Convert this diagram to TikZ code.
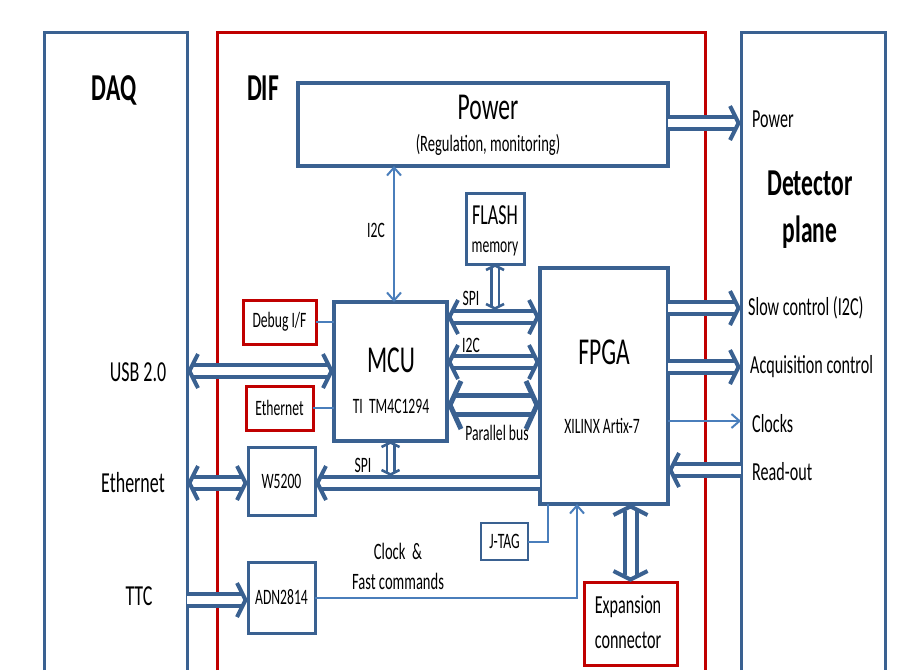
\documentclass[tikz,border=0pt]{standalone}
\usepackage{fontspec}
\setmainfont{Carlito}[FakeStretch=0.62]
\usetikzlibrary{arrows.meta, calc}

\definecolor{difblue}{HTML}{3A6191}
\definecolor{linkblue}{HTML}{4A7EBB}
\definecolor{difred}{HTML}{C00000}

\newcommand{\fsbig}{\fontsize{38}{40}\selectfont}
\newcommand{\fsmid}{\fontsize{29}{31}\selectfont}
\newcommand{\fsside}{\fontsize{26}{28}\selectfont}
\newcommand{\fsnote}{\fontsize{23.5}{25}\selectfont}
\newcommand{\fssmall}{\fontsize{22}{24}\selectfont}

% open chevron for the double bus lines
\pgfdeclarearrow{
  name = Chevron,
  defaults = {length = +10pt, width = +34pt, line width = +4pt},
  parameters = {\the\pgfarrowlength,\the\pgfarrowwidth,\the\pgfarrowlinewidth},
  setup code = {
    \pgfarrowssettipend{0pt}
    \pgfarrowssetlineend{-.6\pgfarrowlength}
    \pgfarrowssetbackend{-\pgfarrowlength}
    \pgfarrowssetvisualbackend{-\pgfarrowlength}
    \pgfarrowshullpoint{0pt}{0pt}
    \pgfarrowsupperhullpoint{-\pgfarrowlength}{.5\pgfarrowwidth}
    \pgfarrowssavethe\pgfarrowlength
    \pgfarrowssavethe\pgfarrowwidth
    \pgfarrowssavethe\pgfarrowlinewidth
  },
  drawing code = {
    \pgfsetdash{}{+0pt}
    \pgfsetlinewidth{\pgfarrowlinewidth}
    \pgfsetmiterjoin
    \pgfsetbuttcap
    \pgfpathmoveto{\pgfqpoint{-\pgfarrowlength}{.5\pgfarrowwidth}}
    \pgfpathlineto{\pgfqpoint{-.6\pgfarrowlinewidth}{0pt}}
    \pgfpathlineto{\pgfqpoint{-\pgfarrowlength}{-.5\pgfarrowwidth}}
    \pgfusepathqstroke
  }
}

\tikzset{
  chev/.tip={Chevron[length=11pt, width=34pt, line width=4pt]},
  widechev/.tip={Chevron[length=14pt, width=48pt, line width=5pt]},
  smallchev/.tip={Chevron[length=6pt, width=18pt, line width=2.5pt]},
  thinchev/.tip={Straight Barb[length=8pt, width=14pt, line width=2pt 0 0]}
}

\begin{document}
\begin{tikzpicture}[x=1pt, y=-1pt,
    block/.style={draw=difblue, line width=3.5pt, inner sep=0pt, outer sep=0pt},
    redblock/.style={draw=difred, line width=3pt, inner sep=0pt, outer sep=0pt},
    frame/.style={line width=3pt},
    txt/.style={inner sep=0pt},
    bus/.style={draw=difblue, line width=4pt, double=white, double distance=8pt},
    widebus/.style={draw=difblue, line width=5pt, double=white, double distance=14pt},
    narrowbus/.style={draw=difblue, line width=2.5pt, double=white, double distance=5pt},
    link/.style={draw=linkblue, line width=2pt}
  ]
  \useasboundingbox (0,0) rectangle (923,670);

  % --- outer frames ---
  \draw[frame, difblue] (44,670) |- (187,32) -- (187,670);
  \draw[frame, difred] (217,670) |- (705,32) -- (705,670);
  \draw[frame, difblue] (741,670) |- (885,32) -- (885,670);
  \coordinate (daqR) at (187,32);
  \coordinate (detL) at (741,32);

  \node[txt, font=\fsbig\bfseries] (daq) at (114,90) {DAQ};
  \node[txt, font=\fsbig\bfseries] (dif) at (263,88) {DIF};
  \node[txt, font=\fsbig\bfseries] (det1) at (810,183) {Detector};
  \node[txt, font=\fsbig\bfseries] (det2) at (810,232) {plane};

  % --- blocks ---
  \node[block, minimum width=370, minimum height=83] (power) at (483,124.5) {};
  \node[txt, font=\fsbig] (powert) at (488,107) {Power};
  \node[txt, font=\fsnote] (powers) at (488,145) {(Regulation, monitoring)};

  \node[block, line width=3pt, minimum width=58, minimum height=71] (flash) at (495,228.5) {};
  \node[txt, font=\fsmid] (flasht) at (495,215) {FLASH};
  \node[txt, font=\fssmall] (flashs) at (495,249) {memory};

  \node[block, minimum width=113, minimum height=139] (mcu) at (390.5,371.5) {};
  \node[txt, font=\fsbig] (mcut) at (391,360) {MCU};
  \node[txt, font=\fssmall] (mcus) at (391,406) {TI\ \ TM4C1294};

  \node[block, minimum width=128, minimum height=236] (fpga) at (604,386) {};
  \node[txt, font=\fsbig] (fpgat) at (604,352) {FPGA};
  \node[txt, font=\fssmall] (fpgas) at (602,426) {XILINX Artix-7};

  \node[redblock, minimum width=73, minimum height=44, font=\fssmall] (debug) at (279.5,322) {Debug I/F};
  \node[redblock, minimum width=67, minimum height=44, font=\fssmall] (ethbox) at (279.5,408) {Ethernet};
  \node[block, line width=3pt, minimum width=67, minimum height=68, font=\fssmall] (w5200) at (281.5,481) {W5200};
  \node[block, line width=3pt, minimum width=67, minimum height=71, font=\fssmall] (adn) at (281.5,597.5) {ADN2814};
  \node[block, line width=2pt, minimum width=47, minimum height=37, font=\fssmall] (jtag) at (504.5,541.5) {J-TAG};
  \node[redblock, minimum width=93, minimum height=83] (expansion) at (630.5,623.5) {};
  \node[txt, font=\fsside] (expt) at (628,607) {Expansion};
  \node[txt, font=\fsside] (exps) at (628,640) {connector};

  % --- DAQ side ---
  \node[txt, font=\fsmid] (usbl) at (138,372) {USB 2.0};
  \node[txt, font=\fsmid] (ethl) at (133,483) {Ethernet};
  \node[txt, font=\fsmid] (ttcl) at (139,596) {TTC};
  \draw[bus, chev-chev] (daqR |- 0,371) -- (mcu.west |- 0,371);
  \draw[bus, chev-chev] (daqR |- 0,483) -- (w5200.west |- 0,483);
  \draw[bus, -chev] (daqR |- 0,600) -- (adn.west |- 0,600);

  % --- MCU <-> FPGA ---
  \draw[bus, chev-chev] (mcu.east |- 0,317) -- (fpga.west |- 0,317);
  \draw[bus, chev-chev] (mcu.east |- 0,362) -- (fpga.west |- 0,362);
  \draw[widebus, widechev-widechev] (mcu.east |- 0,405) -- (fpga.west |- 0,405);
  \draw[bus, chev-] (w5200.east |- 0,483) -- (fpga.west |- 0,483);
  \node[txt, font=\fssmall] (spil) at (471,298) {SPI};
  \node[txt, font=\fssmall] (i2cl) at (471,345) {I2C};
  \node[txt, font=\fssmall] (parl) at (497,433) {Parallel bus};
  \node[txt, font=\fssmall] (spil2) at (363,465) {SPI};
  \draw[narrowbus, smallchev-smallchev] (flash.south) -- (flash.south |- 0,310);
  \draw[narrowbus, smallchev-smallchev] (mcu.south) -- (mcu.south |- 0,476);
  \draw[bus, chev-chev] (expansion.north) -- (expansion.north |- fpga.south);

  % --- thin links ---
  \draw[link, thinchev-thinchev] (power.south -| 394,0) -- (mcu.north -| 394,0);
  \node[txt, font=\fssmall] (i2cp) at (376,230) {I2C};
  \draw[link] (debug.east) -- (debug.east -| mcu.west);
  \draw[link] (ethbox.east) -- (ethbox.east -| mcu.west);
  \draw[link, -thinchev] (adn.east) -| ([xshift=-27]fpga.south);
  \draw[link] (jtag.east) -| ([xshift=-56]fpga.south);
  \node[txt, font=\fsnote] (clk1) at (398,551) {Clock\ \ \&};
  \node[txt, font=\fsnote] (clk2) at (398,581) {Fast commands};

  % --- detector side ---
  \draw[bus, -chev] (power.east |- 0,123) -- (detL |- 0,123);
  \draw[bus, -chev] (fpga.east |- 0,308) -- (detL |- 0,308);
  \draw[bus, -chev] (fpga.east |- 0,367) -- (detL |- 0,367);
  \draw[link, -thinchev] (fpga.east |- 0,421) -- (detL |- 0,421);
  \draw[bus, chev-] (fpga.east |- 0,470) -- (detL |- 0,470);
  \node[txt, font=\fsside, anchor=west] (pwrl) at (752,119) {Power};
  \node[txt, font=\fsside, anchor=west] (slowl) at (748,308) {Slow control (I2C)};
  \node[txt, font=\fsside, anchor=west] (acql) at (750,367) {Acquisition control};
  \node[txt, font=\fsside, anchor=west] (clkl) at (752,424) {Clocks};
  \node[txt, font=\fsside, anchor=west] (rdl) at (752,472) {Read-out};
\end{tikzpicture}
\end{document}
